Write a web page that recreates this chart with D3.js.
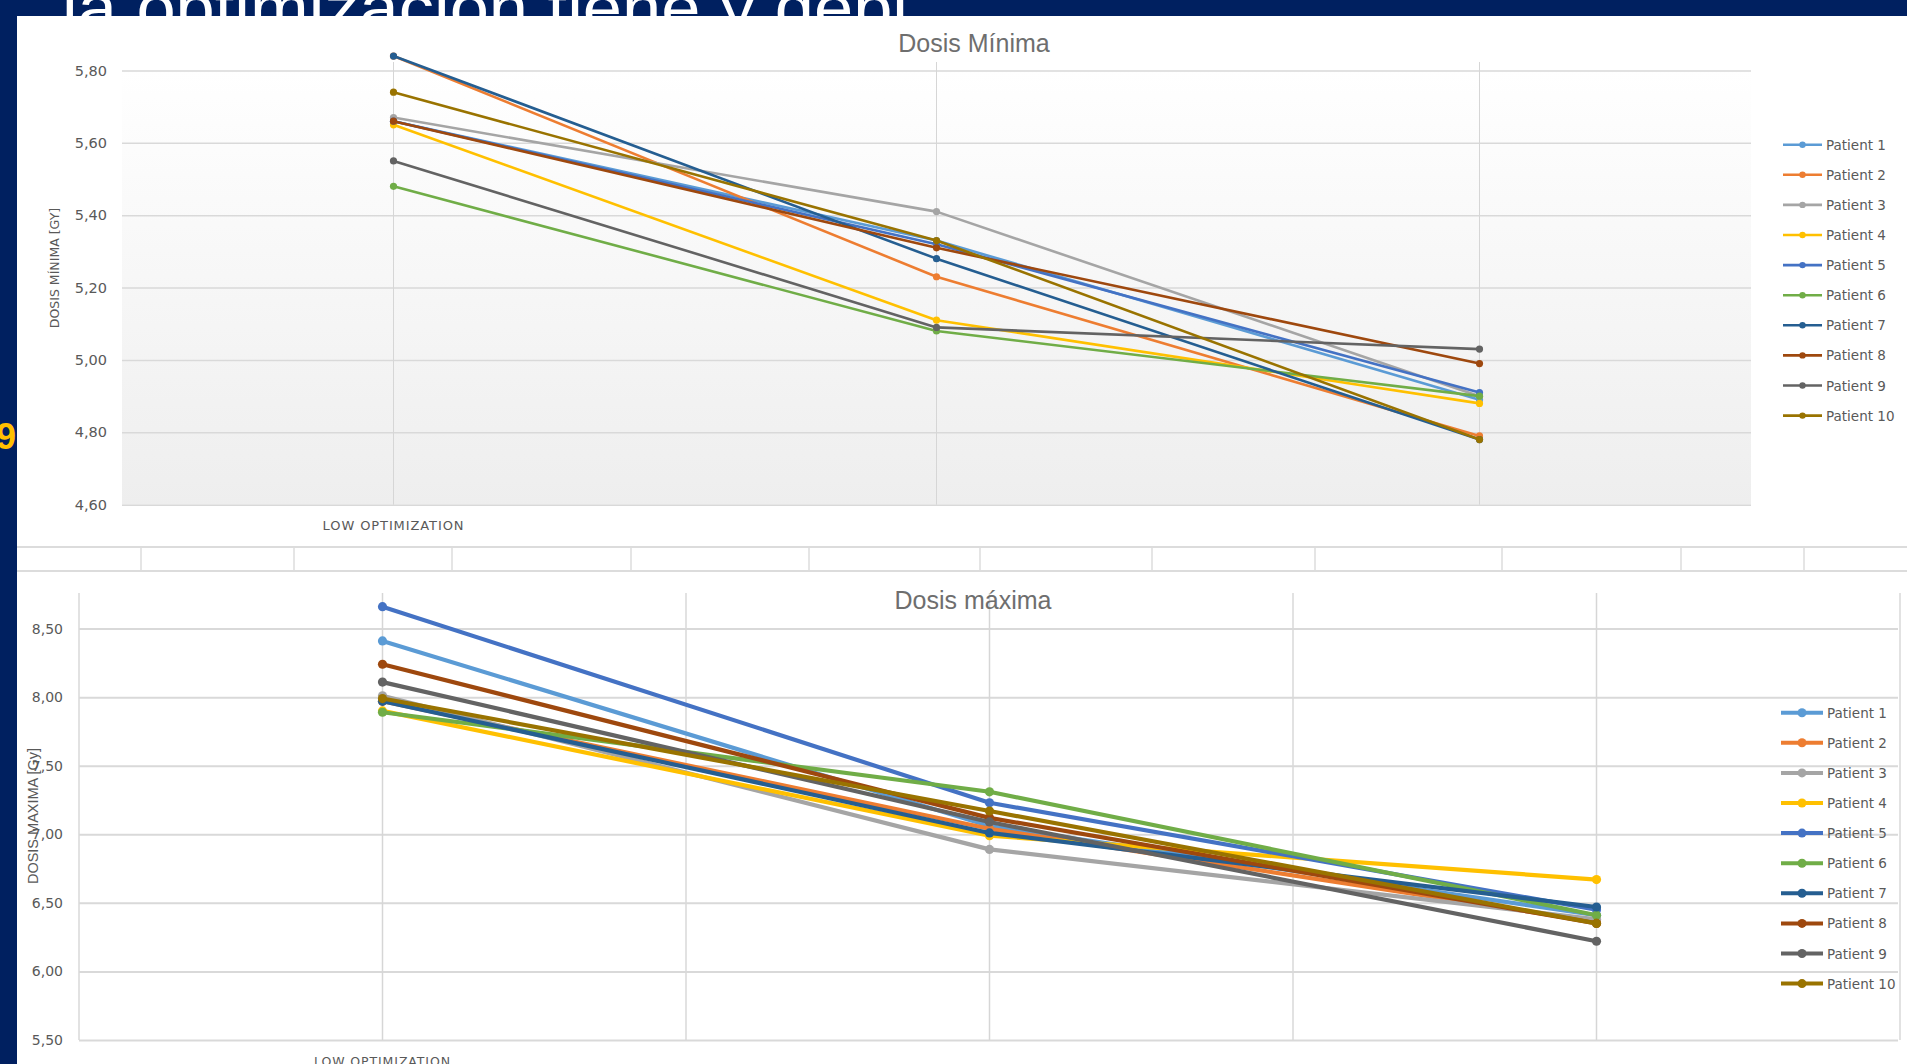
<!DOCTYPE html>
<html>
<head>
<meta charset="utf-8">
<script src="https://cdn.jsdelivr.net/npm/d3@7"></script>
<style>
  body { margin: 0; background: #002060; }
  svg { display: block; }
</style>
</head>
<body>
<svg id="slide" width="1907" height="1064"></svg>
<script>
// categories and labels
const categories = ["low", "medium", "high"];
const tickLabels = ["LOW OPTIMIZATION", "", ""];
const patients = ["Patient 1", "Patient 2", "Patient 3", "Patient 4", "Patient 5",
                  "Patient 6", "Patient 7", "Patient 8", "Patient 9", "Patient 10"];
const colors = ["#5B9BD5", "#ED7D31", "#A5A5A5", "#FFC000", "#4472C4",
                "#70AD47", "#255E91", "#9E480E", "#636363", "#997300"];

// Dosis mínima [Gy], one row per patient (low, medium, high)
const minDose = [
  [5.66, 5.33, 4.89],
  [5.84, 5.23, 4.79],
  [5.67, 5.41, 4.90],
  [5.65, 5.11, 4.88],
  [5.66, 5.32, 4.91],
  [5.48, 5.08, 4.90],
  [5.84, 5.28, 4.78],
  [5.66, 5.31, 4.99],
  [5.55, 5.09, 5.03],
  [5.74, 5.33, 4.78]
];
const minTicks = [4.6, 4.8, 5.0, 5.2, 5.4, 5.6, 5.8];

// Dosis máxima [Gy]
const maxDose = [
  [8.41, 7.06, 6.41],
  [7.97, 7.04, 6.36],
  [8.01, 6.89, 6.38],
  [7.90, 6.99, 6.67],
  [8.66, 7.23, 6.45],
  [7.89, 7.31, 6.41],
  [7.97, 7.01, 6.47],
  [8.24, 7.12, 6.35],
  [8.11, 7.09, 6.22],
  [7.99, 7.17, 6.35]
];
const maxTicks = [5.5, 6.0, 6.5, 7.0, 7.5, 8.0, 8.5];

const svg = d3.select("#slide");
const fmt = v => d3.format(".2f")(v).replace(".", ",");

// slide background and the title hidden behind the pasted charts
svg.append("rect").attr("width", 1907).attr("height", 1064).attr("fill", "#002060");
svg.append("text")
  .attr("x", 62).attr("y", 30)
  .attr("textLength", 846).attr("lengthAdjust", "spacingAndGlyphs")
  .style("font-family", "'Liberation Sans', sans-serif")
  .style("font-size", "64px")
  .attr("fill", "#fff")
  .text("la optimización tiene y debi");
svg.append("text")
  .attr("x", -4).attr("y", 449)
  .style("font-family", "'Liberation Sans', sans-serif")
  .style("font-size", "36px").style("font-weight", "bold")
  .attr("fill", "#FFC000")
  .text("9");

// white picture areas
svg.append("rect").attr("x", 17).attr("y", 16).attr("width", 1890).attr("height", 1048).attr("fill", "#fff");

// spreadsheet strip between the two pictures
const strip = svg.append("g");
[547, 571].forEach(y => strip.append("line")
  .attr("x1", 17).attr("x2", 1907).attr("y1", y).attr("y2", y)
  .attr("stroke", "#dcdcdc").attr("stroke-width", 2));
[141, 294, 452, 631, 809, 980, 1152, 1315, 1502, 1681, 1804].forEach(x => strip.append("line")
  .attr("x1", x).attr("x2", x).attr("y1", 547).attr("y2", 571)
  .attr("stroke", "#dcdcdc").attr("stroke-width", 1.5));

const defs = svg.append("defs");
const grad = defs.append("linearGradient").attr("id", "plotbg")
  .attr("x1", 0).attr("y1", 0).attr("x2", 0).attr("y2", 1);
grad.append("stop").attr("offset", "0").attr("stop-color", "#ffffff");
grad.append("stop").attr("offset", "0.12").attr("stop-color", "#fdfdfd");
grad.append("stop").attr("offset", "1").attr("stop-color", "#eeeeee");

function drawChart(cfg, data, ticks) {
  const g = svg.append("g");
  const x = d3.scaleBand().domain(categories).range([cfg.left, cfg.right]);
  const y = d3.scaleLinear().domain([ticks[0], ticks[ticks.length - 1]]).range([cfg.bottom, cfg.top]);
  const cx = c => x(c) + x.bandwidth() / 2;

  if (cfg.gradient) {
    g.append("rect").attr("x", cfg.left).attr("y", y(ticks[ticks.length - 1]))
      .attr("width", cfg.right - cfg.left).attr("height", cfg.bottom - y(ticks[ticks.length - 1]))
      .attr("fill", "url(#plotbg)");
  }

  // horizontal gridlines + tick labels
  const yAxis = g.append("g").attr("transform", `translate(${cfg.left},0)`)
    .call(d3.axisLeft(y).tickValues(ticks).tickFormat(fmt)
      .tickSize(-(cfg.gridRight - cfg.left)).tickPadding(cfg.tickPad));
  yAxis.select(".domain").remove();
  yAxis.selectAll(".tick line").attr("stroke", "#d9d9d9").attr("stroke-width", cfg.gridW);
  yAxis.selectAll(".tick text")
    .style("font-family", "'DejaVu Sans', sans-serif")
    .style("font-size", cfg.tickSize + "px").attr("fill", "#595959");

  // vertical gridlines at category centres (and band edges for the lower chart)
  categories.forEach(c => g.append("line")
    .attr("x1", cx(c)).attr("x2", cx(c)).attr("y1", cfg.vTop).attr("y2", cfg.bottom)
    .attr("stroke", "#d6d6d6").attr("stroke-width", cfg.vW));
  if (cfg.bandEdges) {
    categories.map(c => x(c)).concat([cfg.right]).forEach(xe => {
      g.append("line").attr("x1", xe).attr("x2", xe).attr("y1", cfg.vTop).attr("y2", cfg.bottom)
        .attr("stroke", "#d9d9d9").attr("stroke-width", cfg.vW);
    });
  }

  // category labels
  categories.forEach((c, i) => g.append("text")
    .attr("x", cx(c)).attr("y", cfg.catY)
    .attr("text-anchor", "middle")
    .style("font-family", "'DejaVu Sans', sans-serif")
    .style("font-size", cfg.catSize + "px").style("letter-spacing", "0.9px")
    .attr("fill", "#595959")
    .text(tickLabels[i]));

  // chart title
  g.append("text").attr("x", cfg.titleX).attr("y", cfg.titleY)
    .attr("text-anchor", "middle")
    .style("font-family", "'Liberation Sans Narrow', 'Liberation Sans', sans-serif")
    .style("font-size", cfg.titleSize + "px").attr("fill", "#6e6e6e")
    .text(cfg.title);

  // y axis title
  g.append("text")
    .attr("transform", `translate(${cfg.yTitleX},${cfg.yTitleY}) rotate(-90)`)
    .attr("text-anchor", "middle")
    .style("font-family", cfg.yTitleFont)
    .style("font-size", cfg.yTitleSize + "px").attr("fill", "#595959")
    .text(cfg.yTitle);

  // series
  const line = d3.line().x((d, i) => cx(categories[i])).y(d => y(d));
  data.forEach((vals, p) => {
    const s = g.append("g");
    s.append("path").attr("d", line(vals)).attr("fill", "none")
      .attr("stroke", colors[p]).attr("stroke-width", cfg.lineW).attr("stroke-linejoin", "round");
    s.selectAll("circle").data(vals).join("circle")
      .attr("cx", (d, i) => cx(categories[i])).attr("cy", d => y(d))
      .attr("r", cfg.markR).attr("fill", colors[p]);
  });

  // legend
  const lg = g.append("g");
  patients.forEach((name, p) => {
    const ly = cfg.legY + p * cfg.legStep;
    lg.append("line").attr("x1", cfg.legX).attr("x2", cfg.legX + cfg.legLen)
      .attr("y1", ly).attr("y2", ly).attr("stroke", colors[p]).attr("stroke-width", cfg.legW);
    lg.append("circle").attr("cx", cfg.legX + cfg.legLen / 2).attr("cy", ly)
      .attr("r", cfg.legR).attr("fill", colors[p]);
    lg.append("text").attr("x", cfg.legX + cfg.legLen + 4).attr("y", ly)
      .attr("dominant-baseline", "central")
      .style("font-family", "'DejaVu Sans', sans-serif")
      .style("font-size", "13.5px").attr("fill", "#595959")
      .text(name);
  });
}

drawChart({
  left: 122, right: 1751, gridRight: 1751, top: 70.5, bottom: 504.7,
  gradient: true, gridW: 1.5, vW: 1, vTop: 62,
  tickPad: 15, tickSize: 14.5, catY: 530, catSize: 13,
  title: "Dosis Mínima", titleX: 974, titleY: 52, titleSize: 25,
  yTitle: "DOSIS MÍNIMA [GY]", yTitleX: 59, yTitleY: 268, yTitleSize: 12.5,
  yTitleFont: "'DejaVu Sans', sans-serif",
  lineW: 2.6, markR: 3.6,
  legX: 1783, legLen: 39, legY: 144.7, legStep: 30.1, legW: 2.6, legR: 3.2
}, minDose, minTicks);

drawChart({
  left: 79, right: 1900, gridRight: 1898, top: 628.6, bottom: 1040,
  gradient: false, gridW: 2, vW: 1.5, vTop: 593, bandEdges: true,
  tickPad: 16, tickSize: 14, catY: 1066, catSize: 12.5,
  title: "Dosis máxima", titleX: 973, titleY: 609, titleSize: 25,
  yTitle: "DOSIS MAXIMA [Gy]", yTitleX: 38, yTitleY: 816, yTitleSize: 14.5,
  yTitleFont: "'Liberation Sans', sans-serif",
  lineW: 4.2, markR: 4.6,
  legX: 1781, legLen: 42, legY: 712.7, legStep: 30.1, legW: 4, legR: 4.5
}, maxDose, maxTicks);
</script>
</body>
</html>
